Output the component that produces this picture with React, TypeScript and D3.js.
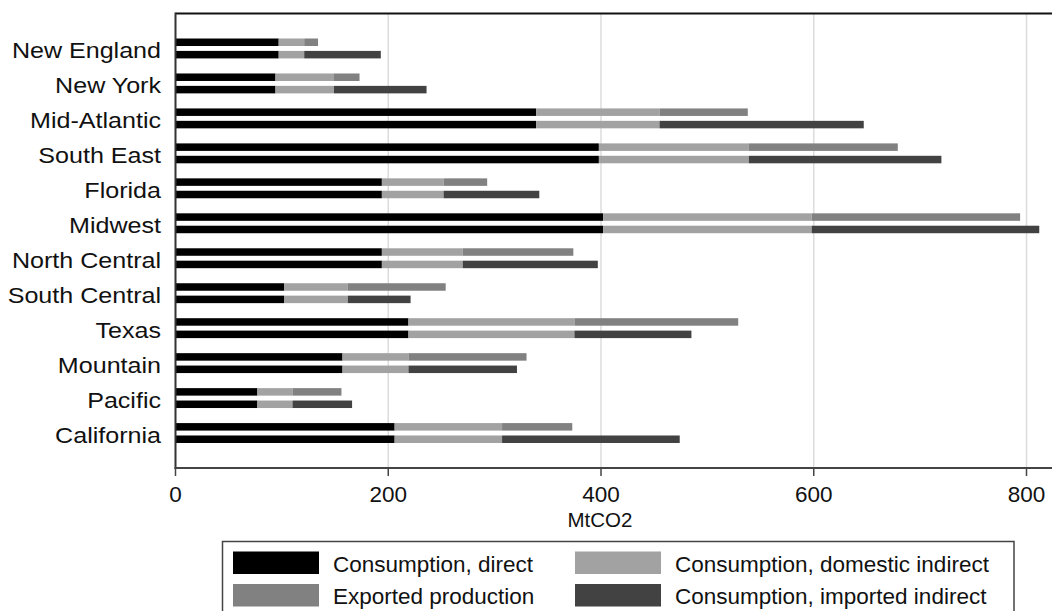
import React from "react";
import * as d3 from "d3";

const regions = [
  "New England", "New York", "Mid-Atlantic", "South East", "Florida", "Midwest",
  "North Central", "South Central", "Texas", "Mountain", "Pacific", "California",
];
const direct = [97, 94, 339, 398, 194, 402, 194, 102, 219, 157, 77, 206];
const domesticIndirect = [24, 55, 116, 141, 58, 196, 76, 60, 156, 62, 33, 101];
const exportedProduction = [13, 24, 83, 140, 41, 196, 104, 92, 154, 111, 46, 66];
const importedIndirect = [72, 87, 192, 181, 90, 214, 127, 59, 110, 102, 56, 167];
const xTicks = [0, 200, 400, 600, 800];
const seriesNames = [
  "Consumption, direct", "Consumption, domestic indirect",
  "Exported production", "Consumption, imported indirect",
];
const seriesColors = ["#000000", "#a2a2a2", "#818181", "#424242"];

export default function App() {
  const W = 1052, H = 611;
  const left = 175.5, top = 13.5, bottom = 468;
  const x = d3.scaleLinear().domain([0, 800]).range([left, 1026.5]);
  const y = d3.scaleBand<string>().domain(regions).range([top, bottom]).paddingInner(0).paddingOuter(0.5);
  const barH = 7.5;
  const off = 6.2;
  const font = "Liberation Sans, Arial, Helvetica, sans-serif";

  const rows = regions.map((r, i) => {
    const c = (y(r) as number) + y.bandwidth() / 2;
    const d = direct[i], di = domesticIndirect[i];
    const segsTop = [
      { x0: 0, x1: d, col: seriesColors[0] },
      { x0: d, x1: d + di, col: seriesColors[1] },
      { x0: d + di, x1: d + di + exportedProduction[i], col: seriesColors[2] },
    ];
    const segsBot = [
      { x0: 0, x1: d, col: seriesColors[0] },
      { x0: d, x1: d + di, col: seriesColors[1] },
      { x0: d + di, x1: d + di + importedIndirect[i], col: seriesColors[3] },
    ];
    return { r, c, segsTop, segsBot };
  });

  const legendItems = [
    { name: seriesNames[0], col: seriesColors[0], lx: 233, ly: 551.5 },
    { name: seriesNames[1], col: seriesColors[1], lx: 575, ly: 551.5 },
    { name: seriesNames[2], col: seriesColors[2], lx: 233, ly: 584 },
    { name: seriesNames[3], col: seriesColors[3], lx: 575, ly: 584 },
  ];

  return (
    <svg width={W} height={H} style={{ position: "absolute", left: 0, top: 0, display: "block" }} fontFamily={font}>
      <rect x={0} y={0} width={W} height={H} fill="#ffffff" />
      {xTicks.filter((t) => t > 0).map((t) => (
        <line key={"g" + t} x1={x(t)} x2={x(t)} y1={top} y2={bottom} stroke="#dcdcdc" strokeWidth={1.5} />
      ))}
      {rows.map((row) => (
        <g key={row.r}>
          {row.segsTop.map((s, j) => (
            <rect key={"t" + j} x={x(s.x0)} y={row.c - off - barH / 2} width={x(s.x1) - x(s.x0)} height={barH} fill={s.col} />
          ))}
          {row.segsBot.map((s, j) => (
            <rect key={"b" + j} x={x(s.x0)} y={row.c + off - barH / 2} width={x(s.x1) - x(s.x0)} height={barH} fill={s.col} />
          ))}
          <text transform={`translate(161,${row.c + 10}) scale(1.14,1)`} textAnchor="end" fontSize={22} fill="#111">
            {row.r}
          </text>
        </g>
      ))}
      <line x1={left} x2={W + 5} y1={top} y2={top} stroke="#111" strokeWidth={2} />
      <line x1={left} x2={left} y1={top - 1} y2={bottom + 1} stroke="#333" strokeWidth={2} />
      <line x1={left - 1} x2={W + 5} y1={bottom} y2={bottom} stroke="#444" strokeWidth={2} />
      {xTicks.map((t) => (
        <g key={"t" + t}>
          <line x1={x(t)} x2={x(t)} y1={bottom} y2={bottom + 8} stroke="#444" strokeWidth={1.5} />
          <text x={x(t)} y={502} textAnchor="middle" fontSize={22.5} fill="#111">{t}</text>
        </g>
      ))}
      <text x={600} y={527} textAnchor="middle" fontSize={20.5} fill="#111">MtCO2</text>
      <rect x={222.5} y={541.5} width={791.5} height={80} fill="none" stroke="#444" strokeWidth={1.5} />
      {legendItems.map((it) => (
        <g key={it.name}>
          <rect x={it.lx} y={it.ly} width={86} height={22.5} fill={it.col} />
          <text x={it.lx + 100} y={it.ly + 20} fontSize={22.5} fill="#111">{it.name}</text>
        </g>
      ))}
    </svg>
  );
}
